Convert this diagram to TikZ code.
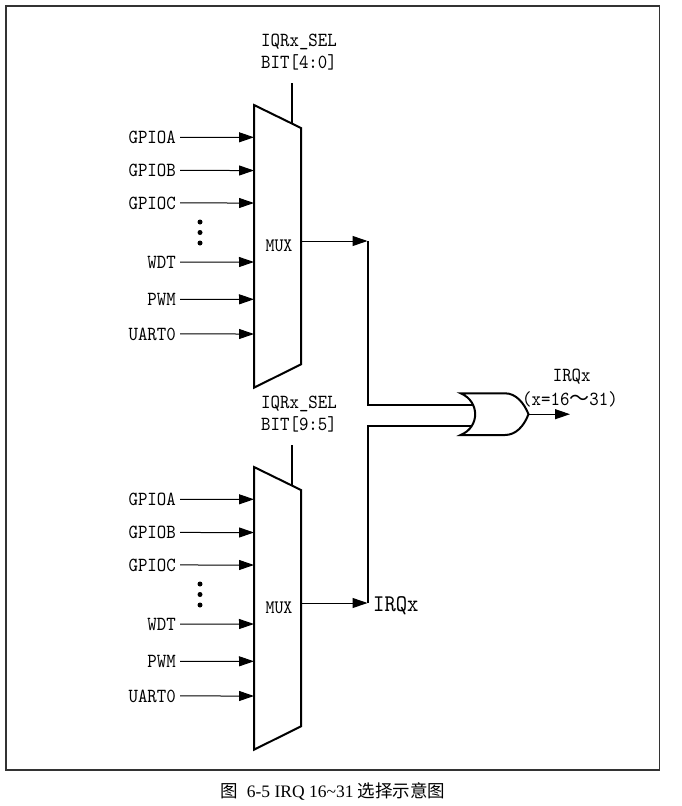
\documentclass[tikz,border=0pt]{standalone}
\usepackage{fontspec}
\setmainfont{Liberation Serif}
\newfontfamily\lab[FakeStretch=0.9]{lmmono10-regular.otf}
\newfontfamily\cjk{Noto Sans CJK SC}
\usetikzlibrary{arrows.meta}
\newcommand\muxunit[2]{%
  \coordinate (#1tl) at (254,105);
  \coordinate (#1tr) at (301,128);
  \coordinate (#1br) at (301,364.3);
  \coordinate (#1bl) at (254,387.7);
  \draw[muxbox] (#1tl) -- (#1tr) -- (#1br) -- (#1bl) -- cycle;
  \node[lbl, anchor=base] (#1sel) at (299,46.5) {IQRx\_SEL};
  \node[lbl, anchor=base] (#1bit) at (299,68) {BIT[#2]};
  \coordinate (#1selt) at (292.3,83);
  \coordinate (#1selb) at (292.3,123.7);
  \draw[bus] (#1selt) -- (#1selb);
  \node[lbl, font=\lab\fontsize{19}{19}\selectfont, anchor=base] (#1mux) at (279,251.5) {MUX};
  \coordinate (#1out) at (301,241);
  \foreach \n/\y in {GPIOA/137.3,GPIOB/170.5,GPIOC/203,WDT/262,PWM/299.3,UART0/334}{
    \node[lbl, anchor=base east] (#1\n) at (176,\y+6.1) {\n};
    \coordinate (#1p\n) at (254,\y);
    \draw[arr] ([xshift=4pt]#1\n.east) -- (#1p\n);
  }
  \node[dotm] (#1d1) at (200,222) {};
  \node[dotm] (#1d2) at (200,232.5) {};
  \node[dotm] (#1d3) at (200,243) {};
}
\begin{document}
\begin{tikzpicture}[x=1pt,y=-1pt,
  lbl/.style={font=\lab\fontsize{20}{20}\selectfont, inner sep=0pt},
  muxbox/.style={draw, line width=2pt, line join=miter},
  wire/.style={line width=1pt},
  arr/.style={wire, -{Triangle[length=15pt,width=10pt]}},
  bus/.style={line width=2pt},
  dotm/.style={circle, fill, inner sep=0pt, minimum size=5pt}]
\useasboundingbox (0,0) rectangle (681,806);
\draw[black!80, line width=1.5pt] (6,6) rectangle (659.3,770);
% top multiplexer
\muxunit{a}{4:0}
% bottom multiplexer
\begin{scope}[shift={(0,362)}]
\muxunit{b}{9:5}
\end{scope}
% wiring to the OR gate
\coordinate (ajoin) at (367.5,241);
\coordinate (acorner) at (367.5,405);
\coordinate (orin1) at (476,405);
\coordinate (bjoin) at (367.5,603);
\coordinate (bcorner) at (367.5,425.5);
\coordinate (orin2) at (476,425.5);
\draw[arr] (aout) -- (ajoin);
\draw[arr] (bout) -- (bjoin);
\draw[bus] (ajoin) -- (acorner) -- (orin1);
\draw[bus] (bjoin) -- (bcorner) -- (orin2);
\node[lbl, font=\lab\fontsize{24}{24}\selectfont, anchor=base west] (irqb) at (373,611.5) {IRQx};
% OR gate
\coordinate (ortip) at (528.5,414.2);
\draw[line width=2pt, fill=white] (460.7,393.3) -- (505,393.3)
  .. controls (516,393.3) and (524,403) .. (ortip)
  .. controls (524,426) and (516,435) .. (505,435) -- (460.7,435)
  .. controls (480,427) and (480,401.5) .. cycle;
\coordinate (orout) at (570,414.2);
\draw[arr] (ortip) -- (orout);
\node[lbl, anchor=base] (irq) at (571.7,381) {IRQx};
\node[lbl, anchor=base] (irqr) at (570,405) {(x=16{\cjk ～}31)};
% caption
\node[font=\fontsize{17.5}{18}\selectfont, anchor=base, inner sep=0pt] (cap) at (333,797) {{\cjk 图}\ \ 6-5 IRQ 16\textasciitilde 31 {\cjk 选择示意图}};
\end{tikzpicture}
\end{document}
